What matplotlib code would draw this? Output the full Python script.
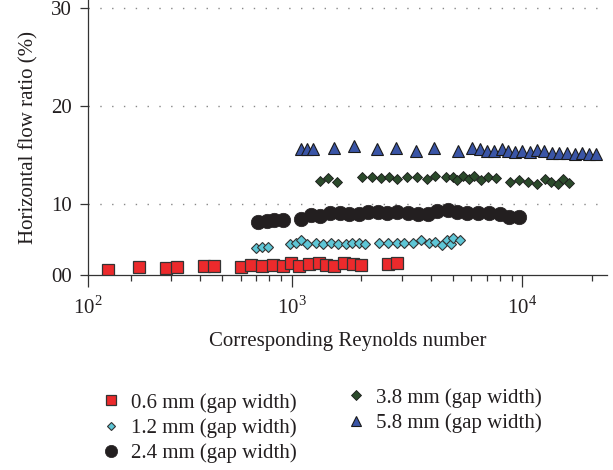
import numpy as np
import matplotlib
matplotlib.use("Agg")
import matplotlib.pyplot as plt
from matplotlib.lines import Line2D
from matplotlib.ticker import FixedLocator, FixedFormatter, LogLocator, NullFormatter

plt.rcParams['font.family'] = ['Liberation Serif', 'DejaVu Serif']
plt.rcParams['mathtext.fontset'] = 'custom'
plt.rcParams['mathtext.rm'] = 'Liberation Serif'

# data (Reynolds number, horizontal flow ratio %)
re_06 = [160, 218, 285, 319, 417, 458, 600, 666, 741, 827, 921, 996, 1079, 1192,
         1313, 1408, 1521, 1686, 1839, 1991, 2624, 2861]
hf_06 = [0.77, 1.16, 0.94, 1.19, 1.26, 1.26, 1.12, 1.40, 1.33, 1.40, 1.33, 1.68, 1.33, 1.54,
         1.73, 1.47, 1.33, 1.68, 1.54, 1.36, 1.58, 1.75]

re_12 = [700, 746, 792, 983, 1044, 1094, 1169, 1275, 1371, 1476, 1593, 1720, 1820, 1952,
         2069, 2399, 2624, 2848, 3069, 3347, 3626, 3939, 4182, 4472, 4691, 4907, 5021, 5368]
hf_12 = [3.79, 3.86, 3.93, 4.35, 4.49, 4.91, 4.35, 4.42, 4.35, 4.42, 4.35, 4.35, 4.42, 4.49,
         4.35, 4.42, 4.42, 4.42, 4.42, 4.49, 4.84, 4.49, 4.59, 4.21, 4.84, 4.28, 5.15, 4.84]

re_24 = [716, 779, 838, 914, 1092, 1209, 1327, 1466, 1620, 1777, 1958, 2149, 2360, 2598,
         2870, 3184, 3519, 3889, 4254, 4749, 5226, 5775, 6446, 7193, 8004, 8781, 9647]
hf_24 = [7.48, 7.64, 7.71, 7.78, 7.85, 8.35, 8.23, 8.63, 8.63, 8.51, 8.51, 8.79, 8.79, 8.65,
         8.79, 8.65, 8.51, 8.51, 8.91, 9.05, 8.88, 8.74, 8.74, 8.65, 8.51, 8.09, 8.18]

re_38 = [1327, 1441, 1577, 2012, 2223, 2439, 2642, 2870, 3172, 3484, 3850, 4195, 4653, 4992,
         5195, 5514, 5891, 6193, 6623, 7079, 7690, 8843, 9705, 10555, 11618, 12541, 13322,
         14327, 15060, 15991]
hf_38 = [12.32, 12.60, 12.25, 12.76, 12.70, 12.60, 12.76, 12.53, 12.70, 12.70, 12.49, 12.86,
         12.70, 12.76, 12.42, 12.83, 12.49, 12.86, 12.42, 12.70, 12.60, 12.25, 12.42, 12.25,
         12.01, 12.49, 12.25, 11.98, 12.49, 12.09]

re_58 = [1094, 1162, 1233, 1525, 1863, 2337, 2825, 3450, 4153, 5248, 6071, 6556, 7052, 7561,
         8141, 8696, 9297, 10000, 10800, 11618, 12419, 13494, 14469, 15672, 16925, 18204,
         19521, 20817]
hf_58 = [15.56, 15.56, 15.56, 15.66, 15.93, 15.56, 15.66, 15.39, 15.66, 15.41, 15.66, 15.56,
         15.41, 15.41, 15.56, 15.41, 15.26, 15.41, 15.32, 15.49, 15.39, 15.21, 15.15, 15.21,
         15.08, 15.21, 15.05, 15.05]

labels = ["0.6 mm (gap width)", "1.2 mm (gap width)", "2.4 mm (gap width)",
          "3.8 mm (gap width)", "5.8 mm (gap width)"]
yticks = [0, 10, 20, 30]
ytick_labels = ["00", "10", "20", "30"]

# y axis below 10 is squeezed in the original figure
K = 0.730


def fwd(y):
    y = np.asarray(y, dtype=float)
    return np.where(y < 10, y * K, y - 10 + 10 * K)


def inv(t):
    t = np.asarray(t, dtype=float)
    return np.where(t < 10 * K, t / K, t + 10 - 10 * K)


edge = "#333333"
txt = "#231f20"
fs = 15
styles = [
    dict(marker="s", ms=8.4, mfc="#ec2a2c", mec=edge, mew=0.9),
    dict(marker="D", ms=5.0, mfc="#5ec6d6", mec=edge, mew=0.8),
    dict(marker="o", ms=10.4, mfc="#231f20", mec="#231f20", mew=0.5),
    dict(marker="D", ms=5.6, mfc="#2b4a2b", mec="#1a1a1a", mew=0.6),
    dict(marker="^", ms=8.6, mfc="#3a55a6", mec="#1a1a1a", mew=0.8),
]
series = [(re_06, hf_06), (re_12, hf_12), (re_24, hf_24), (re_38, hf_38), (re_58, hf_58)]

fig = plt.figure(figsize=(6.13, 4.70), dpi=100)
ax = fig.add_axes([88 / 613, 1 - 275 / 470, 519 / 613, 275 / 470])

for (x, y), st in zip(series, styles):
    ax.plot(x, y, linestyle="none", **st)

ax.set_xscale("log")
ax.set_yscale("function", functions=(fwd, inv))
xmin, xmax = 130.8, 23290
ax.set_xlim(xmin, xmax)
ax.set_ylim(0, 30.85)

# x labels: left edge carries the 10^2 label as in the original
ax.xaxis.set_major_locator(FixedLocator([xmin, 1e3, 1e4]))
ax.xaxis.set_major_formatter(FixedFormatter([r"$10^{2}$", r"$10^{3}$", r"$10^{4}$"]))
ax.xaxis.set_minor_locator(LogLocator(base=10, subs=np.arange(2, 10)))
ax.xaxis.set_minor_formatter(NullFormatter())

ax.yaxis.set_major_locator(FixedLocator(yticks))
ax.yaxis.set_major_formatter(FixedFormatter(ytick_labels))
ax.yaxis.set_minor_locator(FixedLocator([]))

ax.tick_params(axis="x", which="major", direction="out", length=8.5, width=0.9,
               colors=edge, labelcolor=txt, labelsize=fs, pad=7)
ax.tick_params(axis="x", which="minor", direction="out", length=4.3, width=0.9, colors=edge)
ax.tick_params(axis="y", which="major", direction="out", length=5.8, width=0.9,
               colors=edge, labelcolor=txt, labelsize=fs, pad=6)

for s in ["top", "right"]:
    ax.spines[s].set_visible(False)
for s in ["left", "bottom"]:
    ax.spines[s].set_linewidth(0.9)
    ax.spines[s].set_color(edge)

for yv in yticks[1:]:
    ax.axhline(yv, color="#888888", lw=1.0, linestyle=(0, (1, 7.5)), zorder=0)

ax.set_xlabel("Corresponding Reynolds number", fontsize=fs, color=txt, labelpad=9)
ax.set_ylabel("Horizontal flow ratio (%)", fontsize=fs, color=txt, labelpad=9)

handles = []
for st, lab in zip(styles, labels):
    st2 = dict(st)
    st2["ms"] = st["ms"] * 0.85
    handles.append(Line2D([], [], linestyle="none", label=lab, **st2))

leg_kw = dict(frameon=False, fontsize=fs, handletextpad=0.45, labelspacing=0.26,
              handlelength=1.0, borderpad=0, borderaxespad=0, loc="upper left")
leg1 = fig.legend(handles=handles[:3], bbox_to_anchor=(101 / 613, 1 - 393 / 470), **leg_kw)
leg2 = fig.legend(handles=handles[3:], bbox_to_anchor=(346 / 613, 1 - 388 / 470), **leg_kw)
for leg in (leg1, leg2):
    for t in leg.get_texts():
        t.set_color(txt)

fig.savefig("out.png", dpi=100)
